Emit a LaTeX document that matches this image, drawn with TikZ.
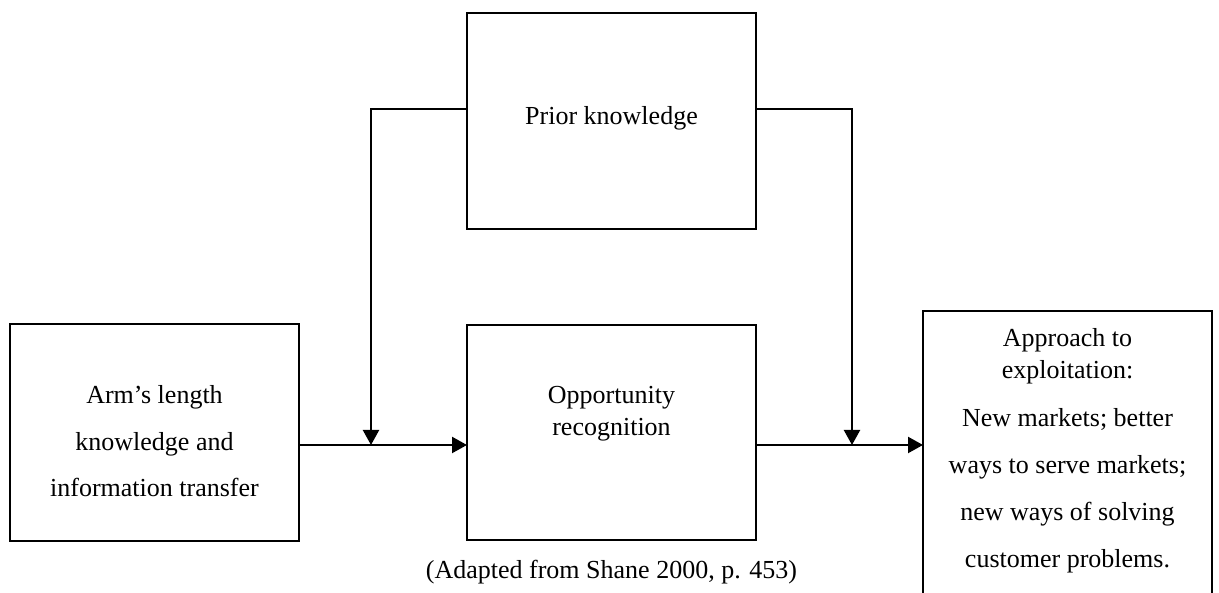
\documentclass[tikz,border=0pt]{standalone}
\usepackage{fontspec}
\setmainfont{Liberation Serif}
\usetikzlibrary{arrows.meta,calc}

\tikzset{
  box/.style={draw, line width=2.8pt, minimum width=289pt, inner sep=0pt, outer sep=0pt},
  txt/.style={align=center, inner sep=0pt, font=\fontsize{26}{32}\selectfont},
  flow/.style={line width=2.2pt, -{Triangle[length=15pt,width=16pt]}}
}

\begin{document}
\begin{tikzpicture}[x=1pt,y=1pt]
  \useasboundingbox (0,0) rectangle (1219,593);
  \clip (0,0) rectangle (1219,593);

  % boxes
  \node[box, minimum height=217pt] (arm) at (154.5,160.5) {};
  \node[box, minimum height=216pt] (prior) at (611.5,472) {};
  \node[box, minimum height=215pt] (opp) at (611.5,160.5) {};
  \node[box, minimum height=300pt] (appr) at (1067.5,132) {};

  % box texts
  \node[txt] (tprior) at (611.5,475) {Prior knowledge};
  \node[txt] (tarm) at (154.5,151.5) {Arm’s length\\[14.5pt] knowledge and\\[14.5pt] information transfer};
  \node[txt] (topp) at (611.5,179) {Opportunity\\ recognition};
  \node[txt] (tappr) at (1067.5,142) {Approach to\\ exploitation:\\[16pt] New markets; better\\[15pt] ways to serve markets;\\[15pt] new ways of solving\\[15pt] customer problems.};

  % junction points
  \coordinate (jl) at (371,148);
  \coordinate (jr) at (852,148);
  \coordinate (fy) at (0,484);

  % main flow
  \draw[flow] (arm.east |- jl) -- (opp.west |- jl);
  \draw[flow] (opp.east |- jr) -- (appr.west |- jr);

  % moderating links from prior knowledge
  \draw[flow] (prior.west |- fy) -- (jl |- fy) -- (jl);
  \draw[flow] (prior.east |- fy) -- (jr |- fy) -- (jr);

  % source
  \node[font=\fontsize{26}{32}\selectfont, anchor=base, inner sep=0pt] (src) at (611.5,14) {(Adapted from Shane 2000, p. 453)};
\end{tikzpicture}
\end{document}
